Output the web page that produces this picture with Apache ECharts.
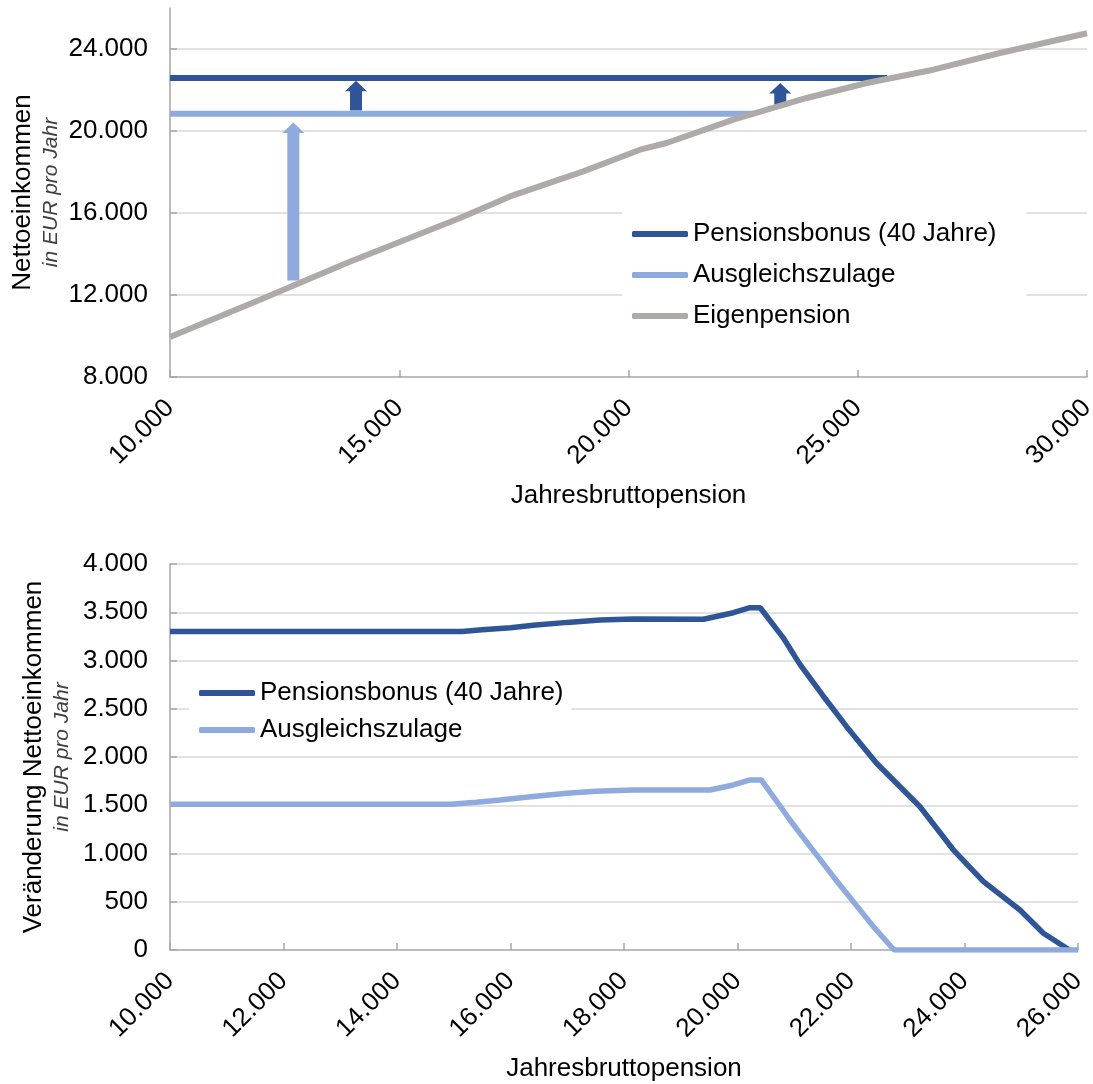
<!DOCTYPE html>
<html>
<head>
<meta charset="utf-8">
<script src="https://cdn.jsdelivr.net/npm/echarts@6/dist/echarts.min.js"></script>
<style>
html,body{margin:0;padding:0;background:#fff;}
#c{width:1093px;height:1084px;}
</style>
</head>
<body>
<div id="c"></div>
<script>
// ---------- data (top chart) ----------
const seriesNames = ['Pensionsbonus (40 Jahre)', 'Ausgleichszulage', 'Eigenpension'];
const topPensionsbonus = [[10000, 22585], [25640, 22585]];
const topAusgleichszulage = [[10000, 20844], [22740, 20844]];
const topEigenpension = [[10000, 9950], [11963, 11771], [13854, 13561], [16325, 15756], [17415, 16810],
  [19015, 18029], [20251, 19088], [20833, 19415], [22286, 20551], [23887, 21610], [25196, 22341],
  [26648, 22990], [28102, 23805], [30000, 24770]];
// arrows: [x, from, to]
const arrowsLight = [[12690, 12712, 20420]];
const arrowsDark = [[14057, 21005, 22454], [23310, 21283, 22341]];
const topXTicks = [10000, 15000, 20000, 25000, 30000];
const topYTicks = [8000, 12000, 16000, 20000, 24000];

// ---------- data (bottom chart) ----------
const botPensionsbonus = [[10000, 3300], [15150, 3300], [15500, 3318], [16000, 3340], [16400, 3365], [17000, 3395],
  [17577, 3420], [18164, 3430], [19400, 3428], [19927, 3495], [20220, 3547], [20400, 3547], [20800, 3240],
  [21100, 2960], [21500, 2640], [21923, 2314], [22450, 1935], [23216, 1485], [23806, 1036], [24335, 708],
  [24978, 415], [25390, 173], [25850, 0]];
const botAusgleichszulage = [[10000, 1510], [14950, 1510], [15400, 1530], [15815, 1554], [16400, 1590], [16990, 1624],
  [17500, 1645], [18164, 1658], [19515, 1658], [19927, 1710], [20220, 1762], [20420, 1762], [20925, 1347],
  [21101, 1209], [21689, 760], [22394, 242], [22760, 0], [26000, 0]];
const botXTicks = [10000, 12000, 14000, 16000, 18000, 20000, 22000, 24000, 26000];
const botYTicks = [0, 500, 1000, 1500, 2000, 2500, 3000, 3500, 4000];

// ---------- styling ----------
const C_DARK = '#2F5597', C_LIGHT = '#8FAADC', C_GRAY = '#AEAAAA';
const FONT = '"Liberation Sans", Arial, sans-serif';
const fmt = v => String(v).replace(/\B(?=(\d{3})+(?!\d))/g, '.');

function arrowRender(params, api) {
  const x = api.value(0), y0 = api.value(1), y1 = api.value(2);
  const p0 = api.coord([x, y0]), p1 = api.coord([x, y1]);
  const sw = 6, hw = 11, hh = 10.5;
  return {
    type: 'polygon',
    shape: {points: [
      [p0[0] - sw, p0[1]], [p0[0] - sw, p1[1] + hh], [p0[0] - hw, p1[1] + hh], [p0[0], p1[1]],
      [p0[0] + hw, p1[1] + hh], [p0[0] + sw, p1[1] + hh], [p0[0] + sw, p0[1]]
    ]},
    style: {fill: api.visual('color')}
  };
}

function xAxisCfg(idx, ticks, nameGap) {
  return {
    type: 'value', gridIndex: idx,
    min: ticks[0], max: ticks[ticks.length - 1], interval: ticks[1] - ticks[0],
    name: 'Jahresbruttopension', nameLocation: 'middle', nameGap: nameGap, nameMoveOverlap: false,
    nameTextStyle: {fontSize: 26, color: '#000', fontFamily: FONT},
    axisLine: {show: true, lineStyle: {color: '#A6A6A6', width: 1.5}},
    axisTick: {show: true, inside: true, length: 7, lineStyle: {color: '#A6A6A6', width: 1.5}},
    axisLabel: {rotate: 45, margin: 27, fontSize: 26, color: '#000', fontFamily: FONT, formatter: fmt,
      showMinLabel: true, showMaxLabel: true, hideOverlap: false},
    splitLine: {show: false}
  };
}

function yAxisCfg(idx, min, max, interval, title, nameGap, showMax) {
  return {
    type: 'value', gridIndex: idx, min: min, max: max, interval: interval,
    name: '{a|' + title + '}\n{b|in EUR pro Jahr}', nameLocation: 'middle', nameRotate: 90, nameGap: nameGap,
    nameMoveOverlap: false,
    nameTextStyle: {align: 'center', fontFamily: FONT, color: '#000', rich: {
      a: {fontSize: 26, lineHeight: 30, fontFamily: FONT, color: '#000', align: 'center'},
      b: {fontSize: 21, lineHeight: 26, fontStyle: 'italic', fontFamily: FONT, color: '#404040', align: 'center'}
    }},
    axisLine: {show: true, lineStyle: {color: '#A6A6A6', width: 1.5}},
    axisTick: {show: true, inside: true, length: 7, lineStyle: {color: '#A6A6A6', width: 1.5}},
    axisLabel: {margin: 22, fontSize: 26, color: '#000', fontFamily: FONT, formatter: fmt, showMaxLabel: showMax},
    splitLine: {show: true, showMaxLine: showMax, showMinLine: false, lineStyle: {color: '#D9D9D9', width: 1.5}}
  };
}

const lineBase = {type: 'line', symbol: 'none', showSymbol: false, silent: true, animation: false};
const legendText = {fontSize: 26, lineHeight: 28, color: '#000', fontFamily: FONT};

const chart = echarts.init(document.getElementById('c'), null, {renderer: 'canvas'});
chart.setOption({
  backgroundColor: '#fff',
  animation: false,
  textStyle: {fontFamily: FONT},
  grid: [
    {left: 170, top: 8, width: 917, height: 369, outerBoundsMode: 'none', containLabel: false},
    {left: 170, top: 564, width: 908, height: 386, outerBoundsMode: 'none', containLabel: false}
  ],
  xAxis: [xAxisCfg(0, topXTicks, 106), xAxisCfg(1, botXTicks, 106)],
  yAxis: [
    yAxisCfg(0, topYTicks[0], 26000, topYTicks[1] - topYTicks[0], 'Nettoeinkommen', 106, false),
    yAxisCfg(1, botYTicks[0], botYTicks[botYTicks.length - 1], botYTicks[1] - botYTicks[0], 'Veränderung Nettoeinkommen', 95, true)
  ],
  legend: [
    {data: seriesNames, left: 622, top: 212, orient: 'vertical', padding: [8, 30, 8, 10],
      backgroundColor: '#fff', icon: 'roundRect', itemWidth: 56, itemHeight: 6, itemGap: 13, selectedMode: false,
      textStyle: legendText},
    {data: seriesNames.slice(0, 2), left: 189, top: 671, orient: 'vertical', padding: [8, 8, 8, 10],
      backgroundColor: '#fff', icon: 'roundRect', itemWidth: 56, itemHeight: 6, itemGap: 9, selectedMode: false,
      textStyle: legendText}
  ],
  series: [
    Object.assign({}, lineBase, {name: seriesNames[0], xAxisIndex: 0, yAxisIndex: 0, data: topPensionsbonus,
      color: C_DARK, lineStyle: {color: C_DARK, width: 6, cap: 'butt'}}),
    Object.assign({}, lineBase, {name: seriesNames[1], xAxisIndex: 0, yAxisIndex: 0, data: topAusgleichszulage,
      color: C_LIGHT, lineStyle: {color: C_LIGHT, width: 6, cap: 'butt'}}),
    Object.assign({}, lineBase, {name: seriesNames[2], xAxisIndex: 0, yAxisIndex: 0, data: topEigenpension,
      color: C_GRAY, lineStyle: {color: C_GRAY, width: 6}}),
    {type: 'custom', name: 'arrowLight', xAxisIndex: 0, yAxisIndex: 0, data: arrowsLight, color: C_LIGHT,
      renderItem: arrowRender, silent: true, animation: false, clip: false},
    {type: 'custom', name: 'arrowDark', xAxisIndex: 0, yAxisIndex: 0, data: arrowsDark, color: C_DARK,
      renderItem: arrowRender, silent: true, animation: false, clip: false},
    Object.assign({}, lineBase, {name: seriesNames[0], xAxisIndex: 1, yAxisIndex: 1, data: botPensionsbonus,
      color: C_DARK, lineStyle: {color: C_DARK, width: 5.5}}),
    Object.assign({}, lineBase, {name: seriesNames[1], xAxisIndex: 1, yAxisIndex: 1, data: botAusgleichszulage,
      color: C_LIGHT, lineStyle: {color: C_LIGHT, width: 5.5}})
  ]
});
</script>
</body>
</html>
